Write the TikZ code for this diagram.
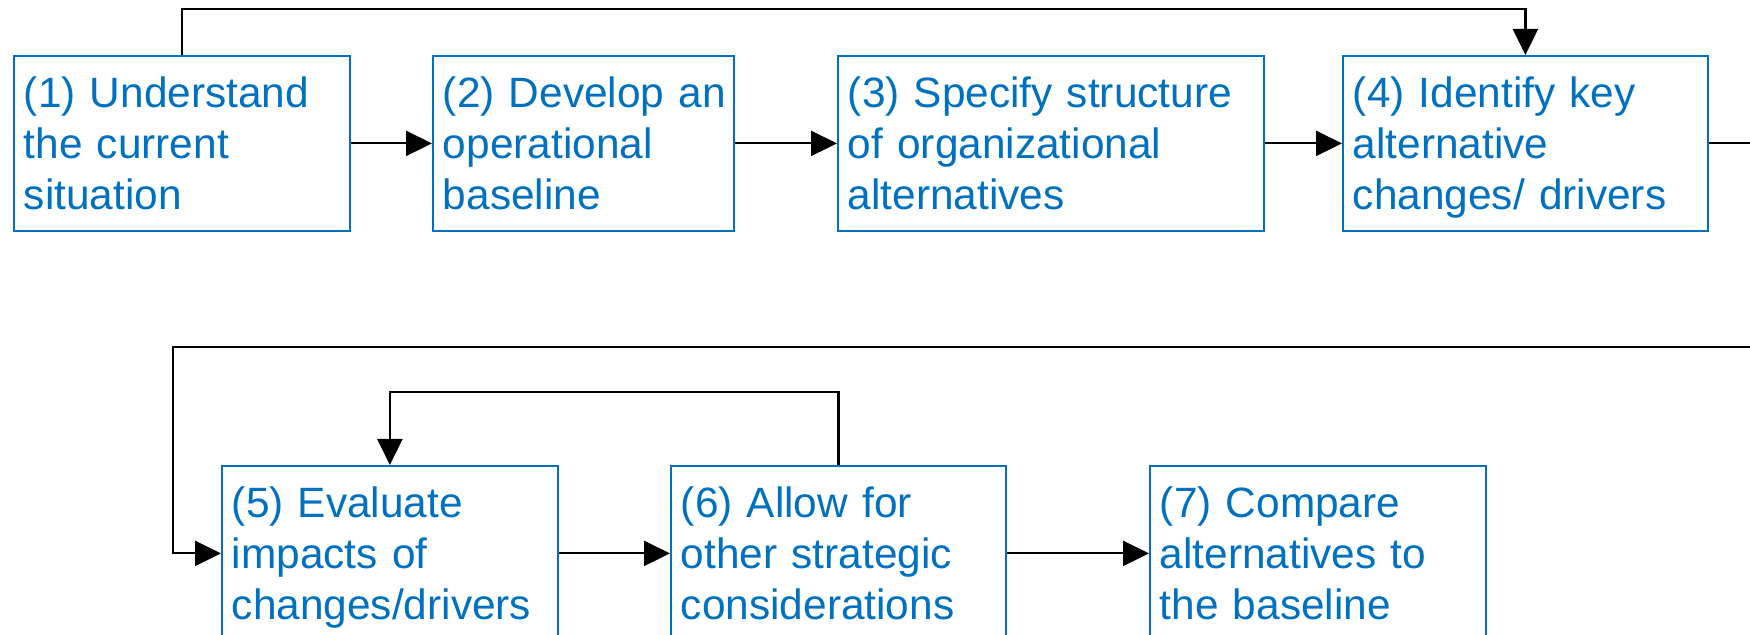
\documentclass[tikz,border=0pt]{standalone}
\usepackage{fontspec}
\setmainfont{Liberation Sans}
\usetikzlibrary{arrows.meta}
\definecolor{stageblue}{RGB}{0,112,192}

\begin{document}
\begin{tikzpicture}[x=0.5pt, y=-0.5pt,
    stagebox/.style={draw=stageblue, line width=0.9pt, text=stageblue, anchor=north west,
      align=left, inner xsep=5pt, inner ysep=0pt, minimum height=87.5pt,
      font=\fontsize{21.2}{25.3}\selectfont},
    flow/.style={draw=black, line width=1.1pt, -{Triangle[length=13pt, width=12.5pt]}},
    link/.style={draw=black, line width=1.1pt}]

  \newcommand\Top{\rule{0pt}{22.7pt}}
  \newcommand\Bot{\strut}

  \useasboundingbox (0,0) rectangle (1750,635);

  % first row
  \node[stagebox, text width=158pt]   (s1) at (13,55)   {\Top(1) Understand\\the current\\situation\Bot};
  \node[stagebox, text width=140.5pt] (s2) at (432,55)  {\Top\mbox{(2) Develop an}\\operational\\baseline\Bot};
  \node[stagebox, text width=203pt]   (s3) at (837,55)  {\Top(3) Specify structure\\of organizational\\alternatives\Bot};
  \node[stagebox, text width=172.5pt] (s4) at (1342,55) {\Top(4) Identify key\\alternative\\changes/ drivers\Bot};

  % second row
  \node[stagebox, text width=158pt]   (s5) at (221,465)  {\Top(5) Evaluate\\impacts of\\changes/drivers\Bot};
  \node[stagebox, text width=157.5pt] (s6) at (670,465)  {\Top(6) Allow for\\other strategic\\considerations\Bot};
  \node[stagebox, text width=158pt]   (s7) at (1149,465) {\Top(7) Compare\\alternatives to\\the baseline\Bot};

  \coordinate (edgeR) at (1750,0);
  \coordinate (wrapR) at (1750,347);
  \coordinate (wrapL) at (173,347);

  \draw[flow] (s1.east) -- (s2.west);
  \draw[flow] (s2.east) -- (s3.west);
  \draw[flow] (s3.east) -- (s4.west);
  \draw[flow] (s1.north) -- ++(0,-46) -| (s4.north);
  \draw[link] (s4.east) -- (s4.east -| edgeR);

  \draw[flow] (wrapR) -- (wrapL) |- (s5.west);
  \draw[flow] (s5.east) -- (s6.west);
  \draw[flow] (s6.east) -- (s7.west);
  \draw[flow] (s6.north) -- ++(0,-73) -| (s5.north);

\end{tikzpicture}
\end{document}
